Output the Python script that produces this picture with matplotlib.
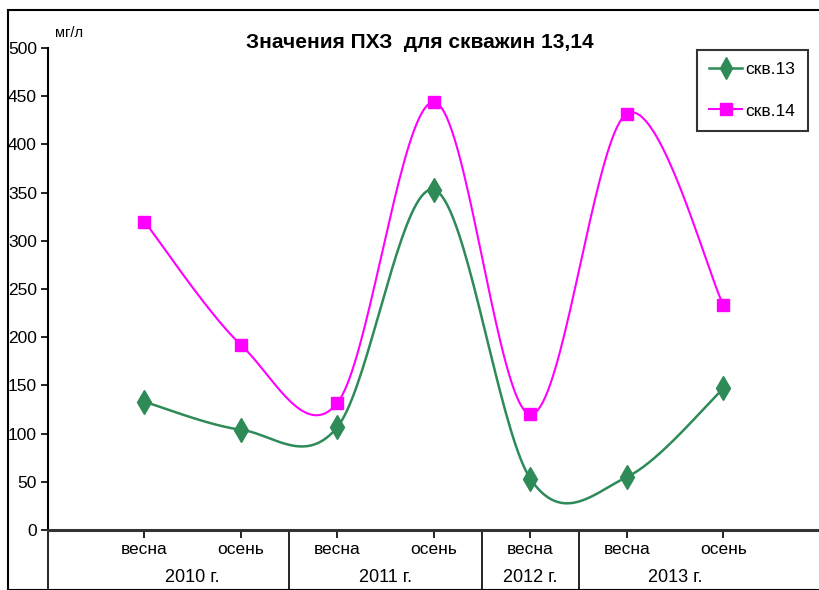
import numpy as np
import matplotlib
matplotlib.use("Agg")
import matplotlib.pyplot as plt
from matplotlib.patches import Rectangle
from matplotlib.lines import Line2D

plt.rcParams['font.family'] = ['Liberation Sans', 'DejaVu Sans']

seasons = ['весна', 'осень', 'весна', 'осень', 'весна', 'весна', 'осень']
years = ['2010 г.', '2011 г.', '2012 г.', '2013 г.']
year_centers = [1.5, 3.5, 5.0, 6.5]
year_bounds = [0, 2.5, 4.5, 5.5]
skv13 = [133, 104, 107, 353, 53, 55, 147]
skv14 = [320, 192, 132, 444, 120, 432, 233]


def smooth(x, y, n=40):
    # Excel-style smoothed line (Catmull-Rom as cubic Bezier)
    p = np.column_stack([x, y]).astype(float)
    p = np.vstack([p[0], p, p[-1]])
    t = np.linspace(0, 1, n)[:, None]
    out = []
    for i in range(1, len(p) - 2):
        p0, p1, p2, p3 = p[i - 1], p[i], p[i + 1], p[i + 2]
        b1 = p1 + (p2 - p0) / 6
        b2 = p2 - (p3 - p1) / 6
        seg = ((1 - t) ** 3) * p1 + 3 * ((1 - t) ** 2) * t * b1 + 3 * (1 - t) * t ** 2 * b2 + t ** 3 * p2
        out.append(seg)
    out = np.vstack(out)
    return out[:, 0], out[:, 1]


fig = plt.figure(figsize=(8.2, 5.9), dpi=100)
ax = fig.add_axes([48 / 820, 60 / 590, 772 / 820, 482 / 590])
px = 72 / 100  # points per pixel

x = np.arange(1, len(seasons) + 1)
green = '#2e8b57'
pink = '#ff00ff'

sx, sy = smooth(x, skv13)
ax.plot(sx, sy, color=green, lw=1.8, zorder=2)
ax.plot(x, skv13, linestyle='none', marker='d', ms=12, color=green, zorder=3)
sx, sy = smooth(x, skv14)
ax.plot(sx, sy, color=pink, lw=1.5, zorder=2)
ax.plot(x, skv14, linestyle='none', marker='s', ms=9, color=pink, zorder=3)

ax.set_xlim(0, 8)
ax.set_ylim(0, 500)
ax.set_yticks(range(0, 501, 50))
ax.tick_params(axis='y', labelsize=12.5, length=5, width=1.2, pad=3)
ax.set_xticks(x)
ax.set_xticklabels([])
ax.tick_params(axis='x', length=6, width=1.2)
for s in ['top', 'right']:
    ax.spines[s].set_visible(False)
ax.spines['left'].set_linewidth(1.5)
ax.spines['bottom'].set_linewidth(2.2)
ax.spines['bottom'].set_color('#333333')

for xi, lab in zip(x, seasons):
    ax.annotate(lab, (xi, 0), xycoords='data', xytext=(0, -20 * px), textcoords='offset points',
                ha='center', va='center', fontsize=12.5)
for xc, lab in zip(year_centers, years):
    ax.annotate(lab, (xc, 0), xycoords='data', xytext=(0, -47 * px), textcoords='offset points',
                ha='center', va='center', fontsize=13)
for xb in year_bounds:
    ax.plot([xb, xb], [0, -0.13], transform=ax.get_xaxis_transform(), color='black',
            lw=1.2, clip_on=False)

fig.text(55 / 820, 1 - 33 / 590, 'мг/л', fontsize=10.5, ha='left', va='center')
fig.text(420 / 820, 1 - 42 / 590, 'Значения ПХЗ  для скважин 13,14', fontsize=15,
         fontweight='bold', ha='center', va='center')

handles = [Line2D([], [], color=green, lw=1.8, marker='d', ms=11),
           Line2D([], [], color=pink, lw=1.5, marker='s', ms=9)]
leg = ax.legend(handles, ['скв.13', 'скв.14'], loc='upper left',
                bbox_to_anchor=(697 / 820, 1 - 50 / 590), bbox_transform=fig.transFigure,
                fontsize=12.5, frameon=True, fancybox=False, handlelength=1.9,
                labelspacing=1.5, borderpad=0.7, handletextpad=0.2, borderaxespad=0)
leg.get_frame().set_edgecolor('black')
leg.get_frame().set_linewidth(1.5)

fig.patches.append(Rectangle((8 / 820, 0), 1.2, 1 - 10 / 590, transform=fig.transFigure,
                             fill=False, edgecolor='black', lw=1.5))

fig.savefig('out.png', dpi=100)
